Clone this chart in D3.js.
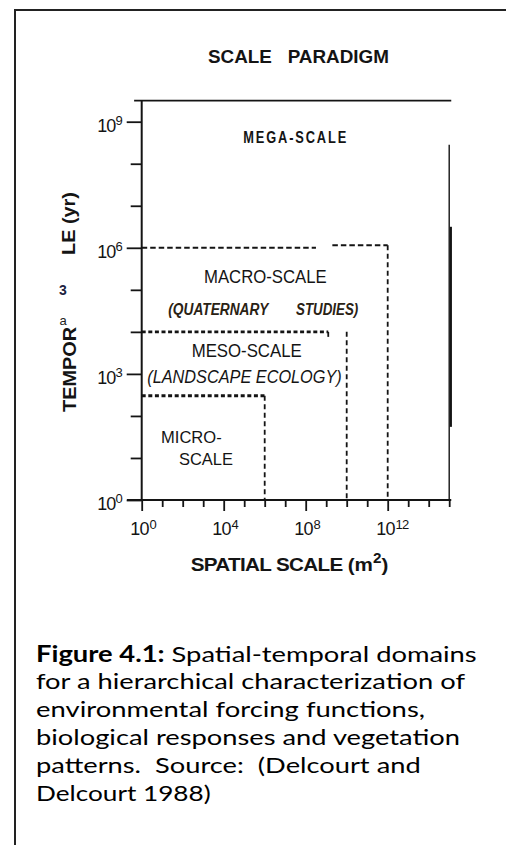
<!DOCTYPE html>
<html><head><meta charset="utf-8">
<script src="https://cdn.jsdelivr.net/npm/d3@7/dist/d3.min.js"></script>
<style>body{margin:0;background:#fff}svg{display:block}text{white-space:pre}</style>
</head><body>
<svg id="c" width="506" height="845"></svg>
<script>
// ---------- data ----------
const chartTitle = "SCALE   PARADIGM";
const xTitle = "SPATIAL SCALE ";
const xTitleUnit = "m";
const xTitleExp = "2";
const xTickExps = d3.range(0, 16);          // 10^0 .. 10^15 m2
const xLabelExps = [0, 4, 8, 12];
const yTickExps = d3.range(0, 10);          // 10^0 .. 10^9 yr
const yLabelExps = [0, 3, 6, 9];
const yTitleParts = ["LE (yr)", "TEMPOR", "a", "3"];
const domainNames = ["MEGA-SCALE", "MACRO-SCALE", "MESO-SCALE", "MICRO-", "SCALE"];
const domainSubtitles = ["(QUATERNARY", "STUDIES)", "(LANDSCAPE ECOLOGY)"];
// domain boundaries [x1, y1, x2, y2] in data units (m2, yr)
const macroBounds = [[1, 1e6, 10 ** 8.5, 1e6], [10 ** 9.3, 10 ** 6.06, 1e12, 10 ** 6.06], [1e12, 10 ** 6.06, 1e12, 1]];
const mesoBounds = [[1, 1e4, 10 ** 9.1, 1e4], [10 ** 9.1, 1e4, 10 ** 9.1, 10 ** 3.8], [1e10, 1e4, 1e10, 1]];
const microBounds = [[1, 10 ** 2.48, 1e6, 10 ** 2.48], [1e6, 10 ** 2.48, 1e6, 1]];
const captionBold = "Figure 4.1:";
const captionLines = [
  " Spatial-temporal domains",
  "for a hierarchical characterization of",
  "environmental forcing functions,",
  "biological responses and vegetation",
  "patterns.  Source:  (Delcourt and",
  "Delcourt 1988)"
];

// ---------- layout ----------
const svg = d3.select("#c");
const ink = "#141414";
const sans = "'Liberation Sans', Arial, sans-serif";
const x = d3.scaleLog().domain([1, 1e12]).range([141.7, 387.7]);
const y = d3.scaleLog().domain([1, 1e9]).range([500, 121.7]);

// outer page frame
svg.append("line").attr("x1", 15).attr("y1", 10).attr("x2", 506).attr("y2", 10).attr("stroke", "#222").attr("stroke-width", 2);
svg.append("line").attr("x1", 15).attr("y1", 9).attr("x2", 15).attr("y2", 845).attr("stroke", "#222").attr("stroke-width", 2);

// title
svg.append("text").attr("x", 208).attr("y", 63.3).attr("font-family", sans).attr("font-weight", "bold")
  .attr("font-size", 18).attr("fill", ink).attr("textLength", 181).attr("lengthAdjust", "spacingAndGlyphs").text(chartTitle);

// frame of plot
const line = (x1, y1, x2, y2, w, dash) => svg.append("line")
  .attr("x1", x(x1)).attr("y1", y(y1)).attr("x2", x(x2)).attr("y2", y(y2))
  .attr("stroke", ink).attr("stroke-width", w).attr("stroke-dasharray", dash || null);
line(10 ** -0.37, 10 ** 9.5, 10 ** 15.1, 10 ** 9.5, 1.8);          // top
line(1, 10 ** 9.5, 1, 1, 2);                                        // left axis
line(10 ** -0.72, 1, 10 ** 15.1, 1, 2.2);                           // bottom axis
line(10 ** 15, 10 ** 8.45, 10 ** 15, 1, 1.4);                       // right edge
line(10 ** 15.08, 10 ** 6.5, 10 ** 15.08, 10 ** 1.74, 2.2);

// x axis ticks
const gx = svg.append("g").attr("transform", `translate(0,${y(1)})`)
  .call(d3.axisBottom(x).tickValues(xTickExps.map(e => 10 ** e)).tickSizeOuter(0).tickFormat(""));
gx.select(".domain").remove();
gx.selectAll(".tick line").attr("stroke", ink).attr("stroke-width", 1.8)
  .attr("y2", d => xLabelExps.includes(Math.round(Math.log10(d))) ? 11 : 7);
// y axis ticks
const gy = svg.append("g").attr("transform", `translate(${x(1)},0)`)
  .call(d3.axisLeft(y).tickValues(yTickExps.map(e => 10 ** e)).tickSizeOuter(0).tickFormat(""));
gy.select(".domain").remove();
gy.selectAll(".tick line").attr("stroke", ink).attr("stroke-width", 1.8)
  .attr("x2", d => yLabelExps.includes(Math.round(Math.log10(d))) ? -15 : -11);

// tick labels with superscripts
xLabelExps.forEach(e => {
  const t = svg.append("text").attr("x", x(10 ** e) - 11.5).attr("y", 535).attr("font-family", sans)
    .attr("font-size", 18).attr("fill", ink).attr("letter-spacing", -0.8);
  t.append("tspan").text("10");
  t.append("tspan").attr("dy", -6.5).attr("font-size", 13).attr("dx", 1).text(e);
});
yLabelExps.forEach(e => {
  const t = svg.append("text").attr("x", 122).attr("y", y(10 ** e) + 10).attr("font-family", sans)
    .attr("font-size", 18).attr("fill", ink).attr("text-anchor", "end").attr("letter-spacing", -0.8);
  t.append("tspan").text("10");
  t.append("tspan").attr("dy", -7).attr("font-size", 13).text(e);
});

// domain boundaries
const drawBounds = (arr, styleH, styleV) => arr.forEach(([a, b, c, d]) => {
  const s = b === d ? styleH : styleV;
  line(a, b, c, d, s[0], s[1]);
});
drawBounds(macroBounds, [2, "5.5,3"], [1.8, "5,3.5"]);
drawBounds(mesoBounds, [2.8, "4,2.6"], [1.8, "5,3.5"]);
drawBounds(microBounds, [2.8, "4,2.6"], [1.8, "5,3.5"]);

// domain labels
const label = (txt, x0, y0, size, len, opts = {}) => svg.append("text")
  .attr("x", x0).attr("y", y0).attr("font-family", sans).attr("font-size", size)
  .attr("font-weight", opts.bold ? "bold" : "normal").attr("font-style", opts.italic ? "italic" : "normal")
  .attr("fill", opts.fill || ink).attr("textLength", len).attr("lengthAdjust", opts.adjust || "spacingAndGlyphs").text(txt);

// MEGA-SCALE: condensed bold, letter-spaced
const mega = svg.append("g");
const megaT = mega.append("text").attr("x", 0).attr("y", 0).attr("font-family", sans).attr("font-size", 16.5)
  .attr("font-weight", "bold").attr("fill", ink).attr("letter-spacing", 2.4).text(domainNames[0]);
const megaW = megaT.node().getComputedTextLength() - 2.4;
mega.attr("transform", `translate(243.3,143.3) scale(${103 / megaW},1)`);

label(domainNames[1], 204, 283.3, 17.5, 122.7);
label(domainSubtitles[0], 168.3, 315, 16, 100, { bold: true, italic: true, fill: "#2a2214" });
label(domainSubtitles[1], 296, 315, 16, 62.3, { bold: true, italic: true, fill: "#2a2214" });
label(domainNames[2], 191.7, 356.5, 17.5, 110);
label(domainSubtitles[2], 147.3, 383.3, 18, 194.4, { italic: true });
label(domainNames[3], 161, 443.3, 17, 60.7);
label(domainNames[4], 179, 465, 17, 54);

// axis titles
const xt = svg.append("text").attr("x", 190.7).attr("y", 570.7).attr("font-family", sans)
  .attr("font-weight", "bold").attr("font-size", 19).attr("fill", ink)
  .attr("textLength", 197.6).attr("lengthAdjust", "spacingAndGlyphs");
xt.append("tspan").attr("letter-spacing", -0.6).text(xTitle);
xt.append("tspan").text("(" + xTitleUnit);
xt.append("tspan").attr("dy", -8).attr("font-size", 14).text(xTitleExp);
xt.append("tspan").attr("dy", 8).text(")");

svg.append("text").attr("transform", "translate(74.5,255) rotate(-90)").attr("font-family", sans)
  .attr("font-weight", "bold").attr("font-size", 19).attr("fill", ink)
  .attr("textLength", 63).attr("lengthAdjust", "spacingAndGlyphs").text(yTitleParts[0]);
svg.append("text").attr("transform", "translate(75.5,412) rotate(-90)").attr("font-family", sans)
  .attr("font-weight", "bold").attr("font-size", 19).attr("fill", ink)
  .attr("textLength", 85).attr("lengthAdjust", "spacingAndGlyphs").text(yTitleParts[1]);
svg.append("text").attr("x", 63).attr("y", 325).attr("text-anchor", "middle").attr("font-family", sans)
  .attr("font-size", 13).attr("fill", "#222").text(yTitleParts[2]);
svg.append("text").attr("x", 63).attr("y", 295).attr("text-anchor", "middle").attr("font-family", sans)
  .attr("font-weight", "bold").attr("font-size", 14).attr("fill", "#1c2340").text(yTitleParts[3]);

// caption
const capFont = "Lato, 'Open Sans', sans-serif";
const capBase = [661.7, 689.3, 716.9, 745, 772.7, 800.7];
const capLen = [440.7, 429, 389, 424, 384.7, 174.7];
captionLines.forEach((ln, i) => {
  const t = svg.append("text").attr("x", 36).attr("y", capBase[i]).attr("font-family", capFont)
    .attr("font-size", 22).attr("fill", "#000").attr("textLength", capLen[i]).attr("lengthAdjust", "spacingAndGlyphs");
  if (i === 0) t.append("tspan").attr("font-weight", "bold").text(captionBold);
  t.append("tspan").text(ln);
});
</script>
</body></html>
